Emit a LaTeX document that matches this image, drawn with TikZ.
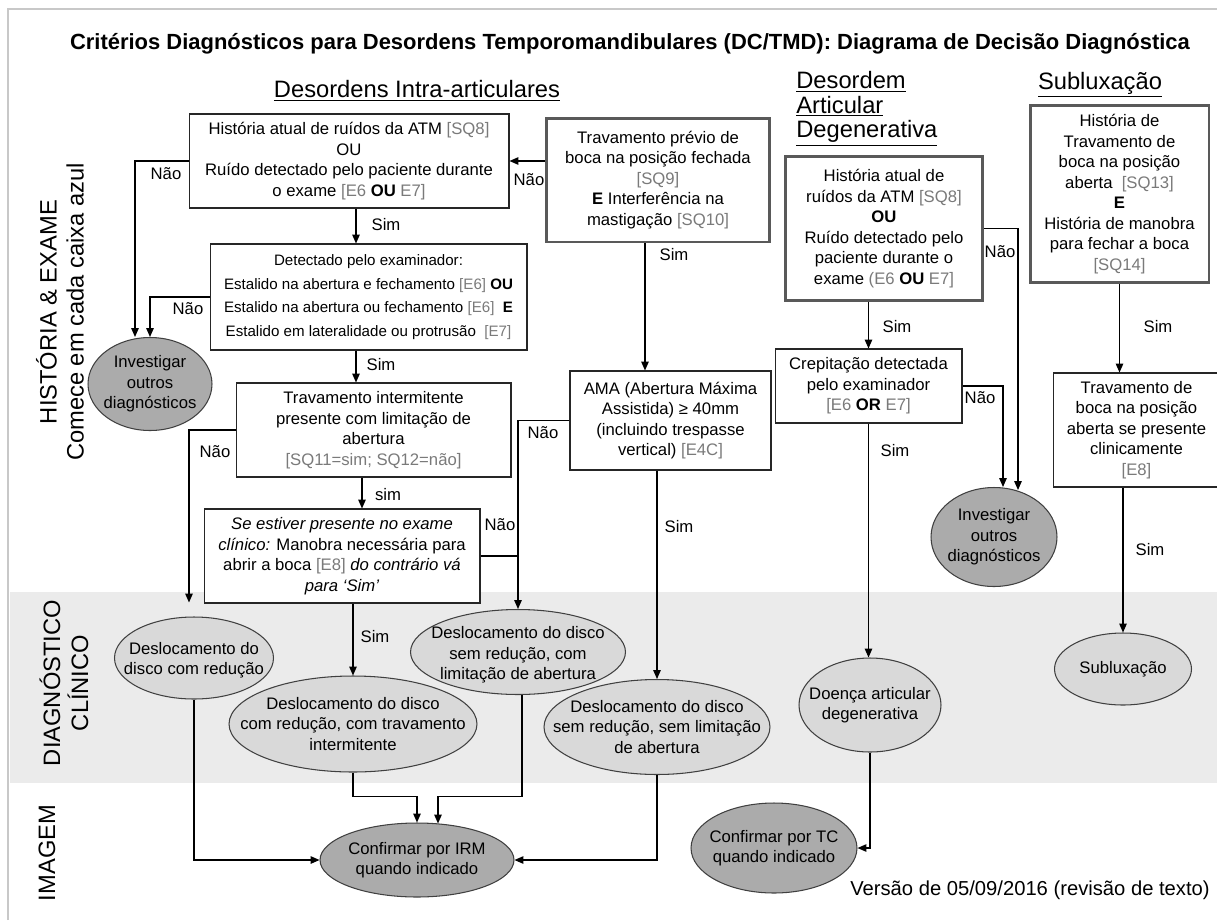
\documentclass[tikz,border=0pt]{standalone}
\usepackage{fontspec}
\setmainfont{Liberation Sans}
\usetikzlibrary{arrows.meta,calc,shapes.geometric}
\definecolor{codegray}{HTML}{7A7A7A}
\definecolor{bandgray}{HTML}{EBEBEB}
\definecolor{lightell}{HTML}{D9D9D9}
\definecolor{darkell}{HTML}{ABABAB}
\definecolor{framegray}{HTML}{C8C8C8}
\newcommand{\cd}[1]{\textcolor{codegray}{#1}}

\begin{document}
\begin{tikzpicture}[
  x=0.02cm, y=-0.02cm,
  every node/.style={font=\fontsize{9.5}{11.7}\selectfont},
  box/.style={rectangle, draw=black!85, line width=0.6pt, fill=white, align=center, inner sep=2pt},
  bluebox/.style={box, draw=black!65, line width=1.7pt},
  ell/.style={ellipse, draw=black!75, line width=0.6pt, fill=lightell, inner sep=0pt},
  ellD/.style={ell, fill=darkell},
  etxt/.style={align=center, inner sep=0pt},
  hdr/.style={font=\fontsize{13.5}{14}\selectfont, inner sep=0pt},
  side/.style={font=\fontsize{13.5}{15.4}\selectfont, rotate=90, align=center, inner sep=0pt},
  arr/.style={-{Triangle[length=5pt,width=4.2pt]}, line width=0.7pt},
  lnk/.style={line width=0.7pt}
]
  \useasboundingbox (0,0) rectangle (1217,920);
  \fill[bandgray] (10,592) rectangle (1217,783);
  \draw[framegray, line width=1.2pt] (8,920) -- (8,9) -- (1217,9);

  \node[font=\fontsize{12.5}{15}\selectfont\bfseries] (title) at (630,44) {Critérios Diagnósticos para Desordens Temporomandibulares (DC/TMD): Diagrama de Decisão Diagnóstica};

  \node[hdr] (hIntra) at (417,91) {\underline{Desordens Intra-articulares}};
  \node[hdr, align=left, anchor=north west] (hDeg) at (796,71) {\underline{Desordem}\\\underline{Articular}\\\underline{Degenerativa}};
  \node[hdr] (hSub) at (1100,85) {\underline{Subluxação}};

  \node[side] (sHist) at (60,312) {HISTÓRIA \& EXAME\\Comece em cada caixa azul};
  \node[side, font=\fontsize{13.5}{16}\selectfont] (sDiag) at (64,683) {DIAGNÓSTICO\\CLÍNICO};
  \node[side] (sImg) at (47,853) {IMAGEM};

  \node[box, minimum width=6.4cm, minimum height=1.88cm] (B1) at (349,161) {História atual de ruídos da ATM \cd{[SQ8]}\\OU\\Ruído detectado pelo paciente durante\\o exame \cd{[E6} \textbf{OU} \cd{E7]}};
  \node[bluebox, minimum width=4.48cm, minimum height=2.48cm] (B2) at (658,180) {Travamento prévio de\\boca na posição fechada\\\cd{[SQ9]}\\\textbf{E} Interferência na\\mastigação \cd{[SQ10]}};
  \node[box, minimum width=6.34cm, minimum height=2.12cm, font=\fontsize{8.6}{13.5}\selectfont] (B3) at (368.5,297) {Detectado pelo examinador:\\Estalido na abertura e fechamento \cd{[E6]} \textbf{OU}\\Estalido na abertura ou fechamento \cd{[E6]}\ \ \textbf{E}\\Estalido em lateralidade ou protrusão\ \ \cd{[E7]}};
  \node[box, minimum width=5.5cm, minimum height=1.88cm] (B4) at (373.5,430) {Travamento intermitente\\presente com limitação de\\abertura\\\cd{[SQ11=sim; SQ12=não]}};
  \node[box, minimum width=5.52cm, minimum height=1.88cm] (B5) at (342,556) {\textit{Se estiver presente no exame}\\\textit{clínico:} Manobra necessária para\\abrir a boca \cd{[E8]} \textit{do contrário vá}\\\textit{para ‘Sim’}};
  \node[box, minimum width=4.02cm, minimum height=1.98cm] (B6) at (670.5,420.5) {AMA (Abertura Máxima\\Assistida) ≥ 40mm\\(incluindo trespasse\\vertical) \cd{[E4C]}};
  \node[bluebox, minimum width=3.96cm, minimum height=2.9cm] (B7) at (884,228.5) {História atual de\\ruídos da ATM \cd{[SQ8]}\\\textbf{OU}\\Ruído detectado pelo\\paciente durante o\\exame \cd{(E6} \textbf{OU} \cd{E7]}};
  \node[box, minimum width=3.74cm, minimum height=1.48cm] (B8) at (868.5,386) {Crepitação detectada\\pelo examinador\\\cd{[E6} \textbf{OR} \cd{E7]}};
  \node[bluebox, minimum width=3.58cm, minimum height=3.56cm] (B9) at (1119.5,194) {História de\\Travamento de\\boca na posição\\aberta\ \ \cd{[SQ13]}\\\textbf{E}\\História de manobra\\para fechar a boca\\\cd{[SQ14]}};
  \node[box, minimum width=3.34cm, minimum height=2.28cm] (B10) at (1136.5,430) {Travamento de\\boca na posição\\aberta se presente\\clinicamente\\\cd{[E8]}};

  \node[ellD, minimum width=2.48cm, minimum height=1.86cm] (inv1) at (150,384) {};
  \node[etxt] (inv1t) at (inv1) {Investigar\\outros\\diagnósticos};
  \node[ellD, minimum width=2.52cm, minimum height=1.98cm] (inv2) at (994,537) {};
  \node[etxt] (inv2t) at (inv2) {Investigar\\outros\\diagnósticos};
  \node[ell, minimum width=3.18cm, minimum height=1.64cm] (dd1) at (194,658) {};
  \node[etxt] (dd1t) at (194,660) {Deslocamento do\\disco com redução};
  \node[ell, minimum width=4.96cm, minimum height=1.92cm] (dd2) at (353,724) {};
  \node[etxt] (dd2t) at (dd2) {Deslocamento do disco\\com redução, com travamento\\intermitente};
  \node[ell, minimum width=4.3cm, minimum height=1.7cm] (dd3) at (518,652) {};
  \node[etxt] (dd3t) at (518,655) {Deslocamento do disco\\sem redução, com\\limitação de abertura};
  \node[ell, minimum width=4.52cm, minimum height=1.9cm] (dd4) at (657,727) {};
  \node[etxt] (dd4t) at (dd4) {Deslocamento do disco\\sem redução, sem limitação\\de abertura};
  \node[ell, minimum width=2.84cm, minimum height=1.88cm] (dad) at (870,705) {};
  \node[etxt] (dadt) at (dad) {Doença articular\\degenerativa};
  \node[ell, minimum width=2.74cm, minimum height=1.44cm] (sub) at (1123,669) {};
  \node[etxt] (subt) at (sub) {Subluxação};
  \node[ellD, minimum width=3.88cm, minimum height=1.48cm] (IRM) at (417,860) {};
  \node[etxt] (IRMt) at (IRM) {Confirmar por IRM\\quando indicado};
  \node[ellD, minimum width=3.32cm, minimum height=1.8cm] (TC) at (774,848) {};
  \node[etxt] (TCt) at (TC) {Confirmar por TC\\quando indicado};

  \draw[arr] (B1.west) -| ($(inv1.north)+(-15,0)$);
  \draw[arr] (B3.west) -| (inv1.north);
  \draw[arr] (B2.west |- B1.east) -- (B1.east);
  \draw[arr] ($(B1.south)+(7,0)$) -- ($(B1.south |- B3.north)+(7,0)$);
  \draw[arr] ($(B3.south -| B1.south)+(7,0)$) -- ($(B4.north -| B1.south)+(7,0)$);
  \draw[arr] ($(B4.south -| B1.south)+(13,0)$) -- ($(B5.north -| B1.south)+(13,0)$);
  \draw[arr] (B4.west) -| ($(dd1.north)+(-5,-14)$);
  \draw[arr] (B5.south -| dd2.north) -- (dd2.north);
  \draw[arr] (B6.west) -| (dd3.north);
  \draw[lnk] (B5.east) -- (B5.east -| dd3.north);
  \draw[arr] ($(B2.south)+(-13,0)$) -- ($(B2.south |- B6.north)+(-13,0)$);
  \draw[arr] (B6.south -| dd4.north) -- (dd4.north);
  \draw[arr] (B7.south -| B8.north) -- (B8.north);
  \draw[arr] (B7.east) -| ($(inv2.north)+(24,3)$);
  \draw[arr] (B8.east) -| ($(inv2.north)+(9,0)$);
  \draw[arr] (B8.south) -- (B8.south |- dad.north);
  \draw[arr] (B9.south) -- (B9.south |- B10.north);
  \draw[arr] (B10.south -| sub.north) -- (sub.north);
  \draw[arr] (dd1.south) |- (IRM.west);
  \draw[arr] (dd2.south) |- ($(IRM.north)+(0,-26)$) -- (IRM.north);
  \draw[arr] ($(dd3.south)+(4,0)$) |- ($(IRM.north)+(21,-26)$) -- ($(IRM.north)+(21,1)$);
  \draw[arr] (dd4.south) |- (IRM.east);
  \draw[arr] (dad.south) |- (TC.east);

  \node (n1) at (166,174) {Não};
  \node (n2) at (529,180) {Não};
  \node (s1) at (386,225) {Sim};
  \node (n3) at (188,309) {Não};
  \node (s2) at (381,365) {Sim};
  \node (n4) at (215,452) {Não};
  \node (s3) at (388,495) {sim};
  \node (n5) at (500,525) {Não};
  \node (n6) at (543,433) {Não};
  \node (s4) at (674,255) {Sim};
  \node (s5) at (375,637) {Sim};
  \node (s6) at (679,527) {Sim};
  \node (n7) at (1000,252) {Não};
  \node (s7) at (897,327) {Sim};
  \node (n8) at (980,398) {Não};
  \node (s8) at (895,451) {Sim};
  \node (s9) at (1158,327) {Sim};
  \node (s10) at (1150,550) {Sim};

  \node[font=\fontsize{11.5}{14}\selectfont] (ver) at (1030,890) {Versão de 05/09/2016 (revisão de texto)};
\end{tikzpicture}
\end{document}
